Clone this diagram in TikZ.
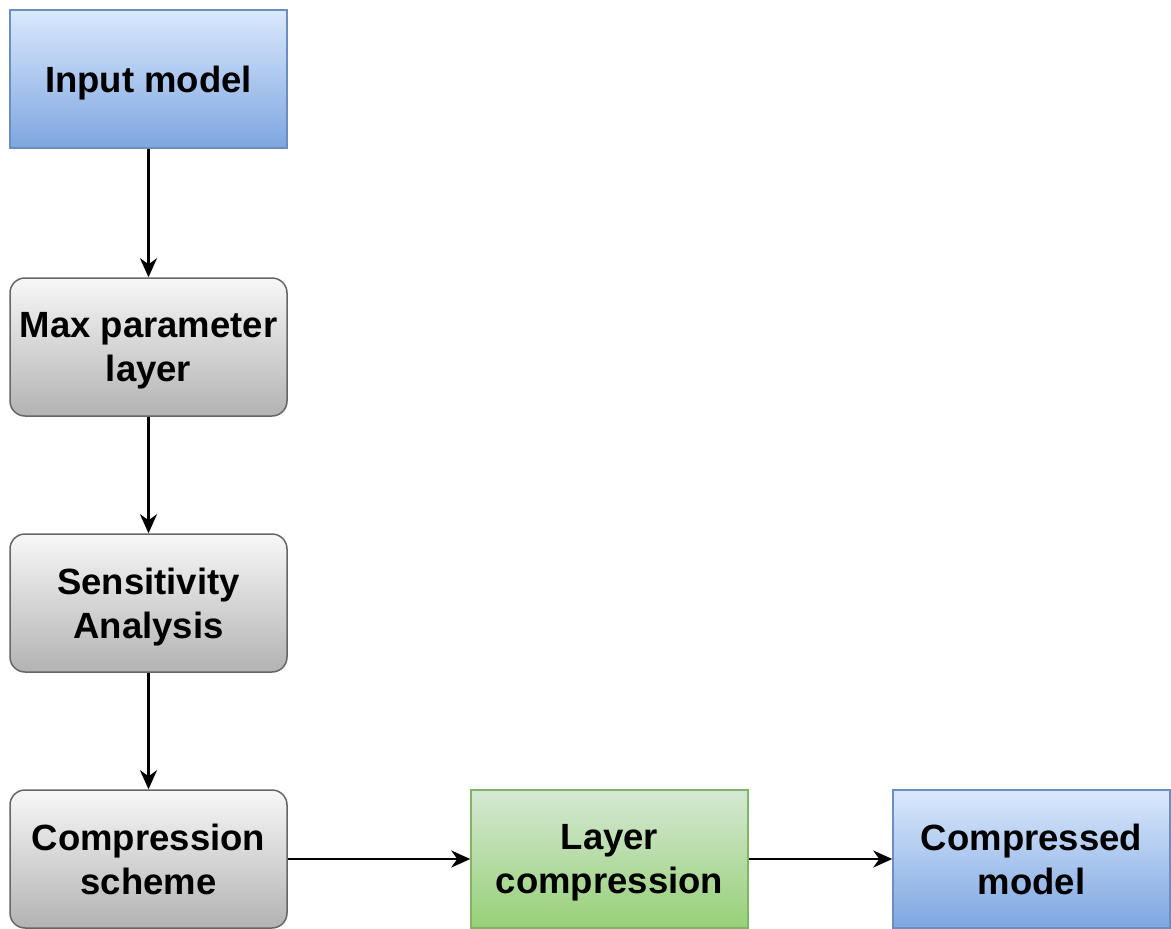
\documentclass[tikz,border=0pt]{standalone}
\usepackage{fontspec}
\setmainfont{Liberation Sans}
\usetikzlibrary{arrows.meta,shadings}
\definecolor{blueTop}{HTML}{DAE8FC}
\definecolor{blueBot}{HTML}{7EA6E0}
\definecolor{blueLine}{HTML}{6C8EBF}
\definecolor{grayTop}{HTML}{F7F7F7}
\definecolor{grayBot}{HTML}{B3B3B3}
\definecolor{grayLine}{HTML}{666666}
\definecolor{greenTop}{HTML}{D5E8D4}
\definecolor{greenBot}{HTML}{97D077}
\definecolor{greenLine}{HTML}{82B366}
\tikzset{
  box/.style={minimum width=277pt, minimum height=138pt, inner sep=0pt,
    align=center, line width=1.5pt, text depth=0pt,
    font=\fontsize{36.5}{44}\selectfont\bfseries},
  bluebox/.style={box, draw=blueLine, top color=blueTop, bottom color=blueBot},
  graybox/.style={box, draw=grayLine, rounded corners=15pt,
    top color=grayTop, bottom color=grayBot},
  greenbox/.style={box, draw=greenLine, top color=greenTop, bottom color=greenBot},
  flow/.style={line width=2.4pt, -{Stealth[length=19pt, width=17pt, inset=6pt]}}
}
\begin{document}
\begin{tikzpicture}[x=1pt, y=-1pt]
  \useasboundingbox (0,0) rectangle (1171,929);
  \node[bluebox]  (input)  at (148.5,79)  {Input model};
  \node[graybox]  (maxp)   at (148.5,347) {Max parameter\\layer};
  \node[graybox]  (sens)   at (148.5,603) {Sensitivity\\Analysis};
  \node[graybox]  (scheme) at (148.5,859) {Compression\\scheme};
  \node[greenbox] (layer)  at (609.5,859) {Layer\\compression};
  \node[bluebox]  (out)    at (1031.5,859) {Compressed\\model};
  \draw[flow] (input) -- (maxp);
  \draw[flow] (maxp) -- (sens);
  \draw[flow] (sens) -- (scheme);
  \draw[flow] (scheme) -- (layer);
  \draw[flow] (layer) -- (out);
\end{tikzpicture}
\end{document}
